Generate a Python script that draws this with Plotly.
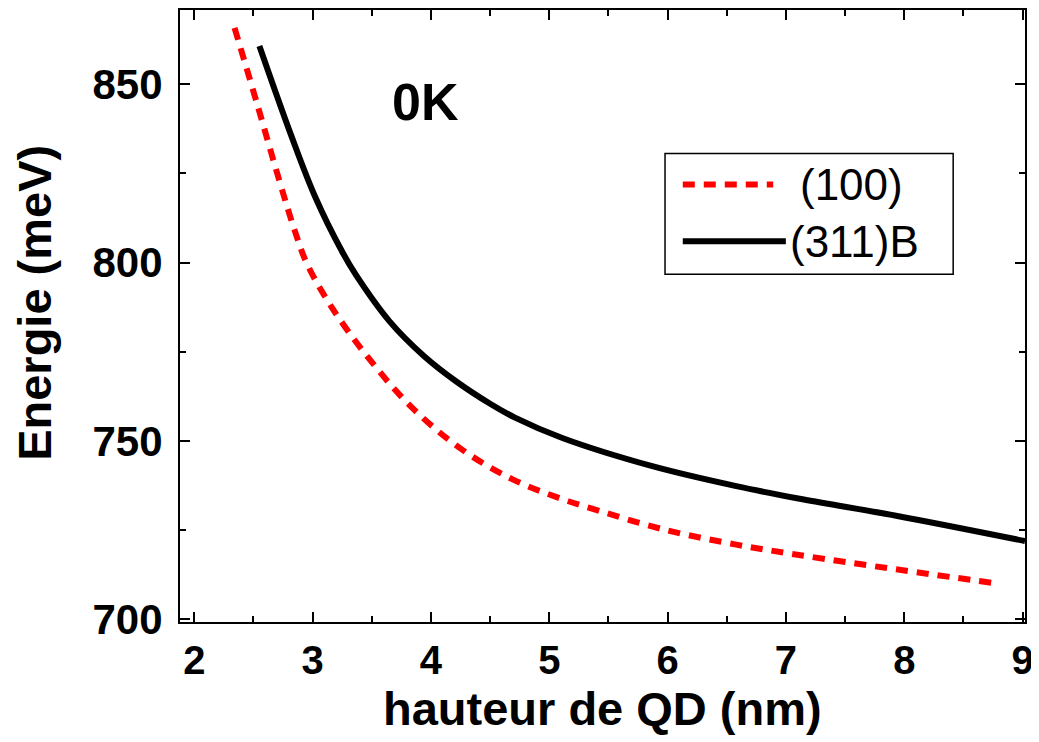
import plotly.graph_objects as go

# (100) series
x_100 = [2.34, 2.54, 2.72, 2.85, 2.95, 3.16, 3.47, 3.84, 4.26, 4.69, 5.08, 5.34, 5.96, 6.58, 7.03, 7.65, 8.74]
y_100 = [865.8, 843.4, 822.8, 808.8, 799.8, 787.5, 773.3, 759.3, 747.6, 739.2, 734.0, 731.2, 725.2, 720.9, 718.4, 715.3, 710.2]

# (311)B series
x_311 = [2.55, 2.82, 3.02, 3.25, 3.37, 3.65, 3.94, 4.22, 4.50, 4.71, 5.11, 5.87, 6.58, 7.14, 7.93, 9.02]
y_311 = [860.7, 835.5, 818.5, 803.0, 796.3, 783.5, 773.8, 766.5, 760.4, 756.5, 750.8, 742.9, 737.3, 733.6, 729.0, 721.9]

x_ticks = [2, 3, 4, 5, 6, 7, 8, 9]
y_ticks = [700, 750, 800, 850]

FONT = "Liberation Sans, Arial, sans-serif"

fig = go.Figure()
fig.add_trace(go.Scatter(x=x_100, y=y_100, mode="lines", name="(100)",
                         line=dict(color="#ff0000", width=6, dash="12px,9px", shape="spline")))
fig.add_trace(go.Scatter(x=x_311, y=y_311, mode="lines", name="(311)B",
                         line=dict(color="#000000", width=6, shape="spline")))

axis_common = dict(showline=True, linecolor="black", linewidth=2, mirror="allticks",
                   ticks="inside", ticklen=10, tickwidth=2, tickcolor="black",
                   showgrid=False, zeroline=False,
                   tickfont=dict(family=FONT, size=40, color="black", weight="bold"))

fig.update_xaxes(range=[1.879, 9.02], tickvals=x_ticks, ticklabelstandoff=2,
                 minor=dict(ticks="inside", ticklen=6, tickwidth=2, tickcolor="black", dtick=0.5),
                 **axis_common)
fig.update_yaxes(range=[699.2, 870.8], tickvals=y_ticks, ticklabelstandoff=7,
                 tickfont=dict(family=FONT, size=42, color="black", weight="bold"),
                 minor=dict(ticks="inside", ticklen=6, tickwidth=2, tickcolor="black", dtick=25),
                 **{k: v for k, v in axis_common.items() if k != "tickfont"})

# axis titles
fig.add_annotation(xref="paper", yref="paper", x=0.5, y=-0.142, text="hauteur de QD (nm)",
                   showarrow=False, xanchor="center", yanchor="middle",
                   font=dict(family=FONT, size=47, color="black", weight="bold"))
fig.add_annotation(xref="paper", yref="paper", x=-0.1716, y=0.5215, text="Energie (meV)",
                   showarrow=False, xanchor="center", yanchor="middle", textangle=-90,
                   font=dict(family=FONT, size=47, color="black", weight="bold"))

# legend drawn manually to match the reference box
fig.add_shape(type="rect", xref="paper", yref="paper", x0=0.574, x1=0.915, y0=0.5684, y1=0.7655,
              line=dict(color="black", width=1.5), fillcolor="white")
fig.add_shape(type="line", xref="paper", yref="paper", x0=0.595, x1=0.702, y0=0.715, y1=0.715,
              line=dict(color="#ff0000", width=6, dash="12px,9px"))
fig.add_shape(type="line", xref="paper", yref="paper", x0=0.595, x1=0.717, y0=0.622, y1=0.622,
              line=dict(color="black", width=6))
fig.add_annotation(xref="paper", yref="paper", x=0.731, y=0.715, text="(100)", showarrow=False,
                   xanchor="left", yanchor="middle", font=dict(family=FONT, size=44, color="black"))
fig.add_annotation(xref="paper", yref="paper", x=0.720, y=0.622, text="(311)B", showarrow=False,
                   xanchor="left", yanchor="middle", font=dict(family=FONT, size=44, color="black"))

fig.add_annotation(x=3.95, y=845.1, text="0K", showarrow=False, xanchor="center", yanchor="middle",
                   font=dict(family=FONT, size=52, color="black", weight="bold"))

fig.update_layout(width=1031, height=734, margin=dict(l=172, r=14, t=0, b=120),
                  plot_bgcolor="white", paper_bgcolor="white", showlegend=False)

fig.write_html("out.html")
